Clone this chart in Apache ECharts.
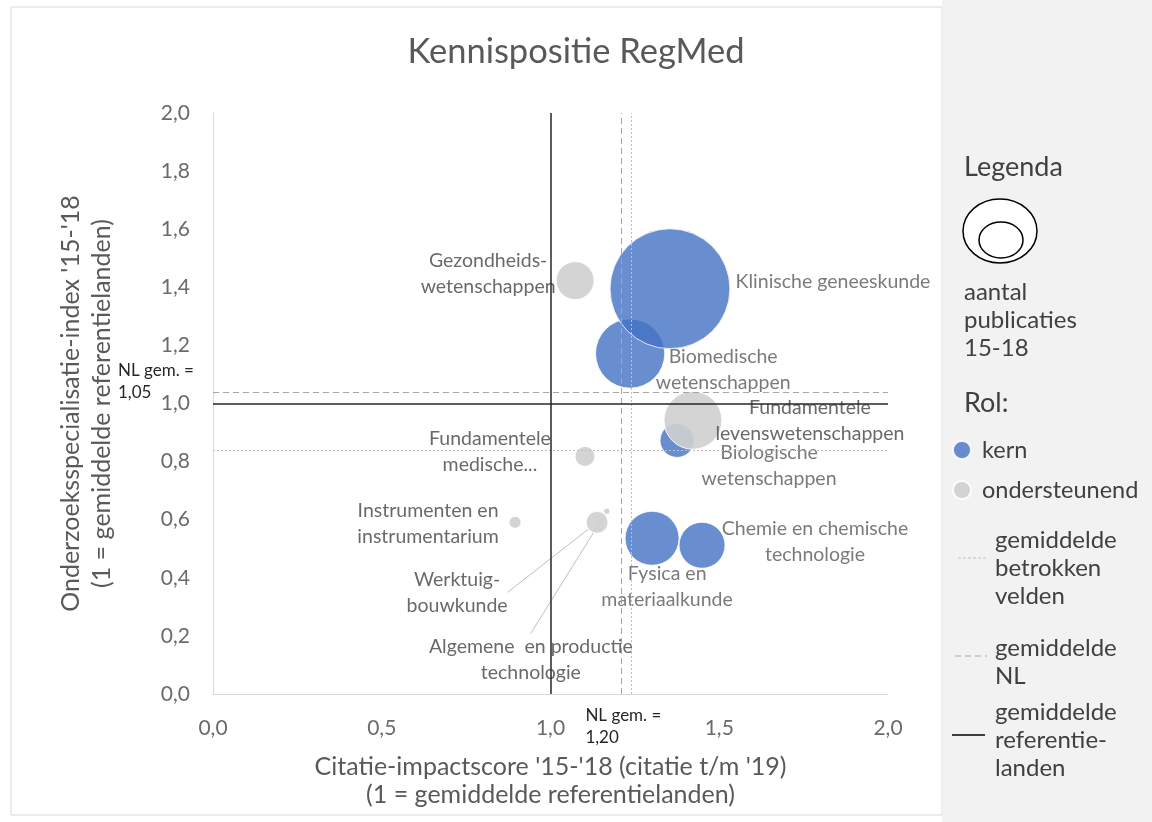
<!DOCTYPE html>
<html><head><meta charset="utf-8">
<script src="https://cdn.jsdelivr.net/npm/echarts@6/dist/echarts.min.js"></script>
<style>html,body{margin:0;padding:0;background:#fff}#c{width:1152px;height:822px}</style>
</head><body><div id="c"></div>
<script>
// ---- data ----
const kernNames = ['Biomedische\nwetenschappen', 'Klinische geneeskunde', 'Biologische\nwetenschappen', 'Fysica en\nmateriaalkunde', 'Chemie en chemische\ntechnologie'];
const kernX = [1.236, 1.354, 1.375, 1.301, 1.449];
const kernY = [1.172, 1.395, 0.873, 0.536, 0.512];
const kernPubs = [12000, 36000, 2900, 7300, 5300];

const steunNames = ['Gezondheids-\nwetenschappen', 'Fundamentele\nlevenswetenschappen', 'Fundamentele\nmedische...', 'Instrumenten en\ninstrumentarium', 'Werktuig-\nbouwkunde', 'Algemene  en productie\ntechnologie'];
const steunX = [1.073, 1.422, 1.102, 0.895, 1.138, 1.167];
const steunY = [1.423, 0.942, 0.818, 0.591, 0.591, 0.629];
const steunPubs = [3600, 8400, 1000, 360, 1200, 100];

const refLandX = 1.0, refLandY = 1.0;      // gemiddelde referentielanden
const nlX = 1.21, nlY = 1.045;             // gemiddelde NL
const veldX = 1.235, veldY = 0.838;        // gemiddelde betrokken velden
const nlLabelX = 'NL gem. =\n1,20';
const nlLabelY = 'NL gem. =\n1,05';

const xTickLabels = ['0,0', '0,5', '1,0', '1,5', '2,0'];
const yTickLabels = ['0,0', '0,2', '0,4', '0,6', '0,8', '1,0', '1,2', '1,4', '1,6', '1,8', '2,0'];

// ---- styles (label offsets in px relative to bubble centre) ----
const kernLabelOffsets = [[93, 16], [163, -7], [92, 25], [15, 48], [113, -4]];
const steunLabelOffsets = [[-87, -7], [117, 0], [-95, -5], [-87, 1], [-140, 70], [-76, 148]];
const steunLeader = [false, false, false, false, true, true];

const FONT = 'Lato';
const TXT = '#595959';
const sizeOf = v => Math.sqrt(v) * 0.632;

const chart = echarts.init(document.getElementById('c'));

function mkData(names, xs, ys, pubs, leader) {
  return names.map((n, i) => {
    const d = { name: n, value: [xs[i], ys[i], pubs[i]] };
    if (leader && leader[i]) d.labelLine = { show: true, lineStyle: { color: '#bfbfbf', width: 1 } };
    return d;
  });
}

const labelStyle = {
  show: true, position: 'inside', formatter: '{b}', color: TXT,
  fontFamily: FONT, fontSize: 19.5, lineHeight: 26, align: 'center', verticalAlign: 'middle'
};

const option = {
  animation: false,
  backgroundColor: '#fff',
  textStyle: { fontFamily: FONT },
  title: {
    text: 'Kennispositie RegMed', left: 'center', top: 29,
    textStyle: { color: TXT, fontFamily: FONT, fontSize: 34.5, fontWeight: 'normal' }
  },
  grid: { left: 213, right: 264, top: 113, bottom: 128 },
  xAxis: {
    type: 'value', min: 0, max: 2, interval: 0.5,
    axisLine: { show: true, onZero: false, lineStyle: { color: '#d9d9d9', width: 1 } },
    axisTick: { show: false }, splitLine: { show: false },
    axisLabel: { color: '#6b6b6b', fontSize: 21, fontFamily: FONT, margin: 24,
      formatter: v => xTickLabels[Math.round(v / 0.5)] },
    name: "Citatie-impactscore '15-'18 (citatie t/m '19)\n(1 = gemiddelde referentielanden)",
    nameLocation: 'middle', nameGap: 59,
    nameTextStyle: { color: TXT, fontSize: 25, lineHeight: 28, fontFamily: FONT }
  },
  yAxis: {
    type: 'value', min: 0, max: 2, interval: 0.2,
    axisLine: { show: true, onZero: false, lineStyle: { color: '#d9d9d9', width: 1 } },
    axisTick: { show: false }, splitLine: { show: false },
    axisLabel: { color: '#6b6b6b', fontSize: 21, fontFamily: FONT, margin: 23,
      formatter: v => yTickLabels[Math.round(v / 0.2)] },
    name: "Onderzoeksspecialisatie-index '15-'18\n(1 = gemiddelde referentielanden)",
    nameLocation: 'middle', nameGap: 96,
    nameTextStyle: { color: TXT, fontSize: 25, lineHeight: 31, fontFamily: FONT }
  },
  legend: {
    orient: 'vertical', left: 952, top: 438, itemWidth: 18, itemHeight: 18, itemGap: 16,
    icon: 'circle', padding: 0,
    textStyle: { color: '#404040', fontSize: 23.5, fontFamily: FONT, padding: [0, 0, 0, 6] },
    data: ['kern', 'ondersteunend']
  },
  series: [
    {
      type: 'scatter', name: 'lines', data: [], z: 1, silent: true,
      markLine: {
        symbol: 'none', silent: true, label: { show: false }, animation: false,
        data: [
          { xAxis: veldX, lineStyle: { color: '#bfbfbf', type: [2, 2], width: 1 } },
          { yAxis: veldY, lineStyle: { color: '#bfbfbf', type: [2, 2], width: 1 } },
          { xAxis: nlX, lineStyle: { color: '#a6a6a6', type: [6, 4], width: 1 } },
          { yAxis: nlY, lineStyle: { color: '#a6a6a6', type: [6, 4], width: 1 } },
          { xAxis: refLandX, lineStyle: { color: '#262626', type: 'solid', width: 1.5 } },
          { yAxis: refLandY, lineStyle: { color: '#262626', type: 'solid', width: 1.5 } }
        ]
      }
    },
    {
      type: 'scatter', name: 'kern', z: 3,
      data: mkData(kernNames, kernX, kernY, kernPubs),
      symbolSize: d => sizeOf(d[2]),
      itemStyle: { color: '#4472C4', opacity: 0.8, borderColor: '#ffffff', borderWidth: 1 },
      label: labelStyle,
      labelLayout: p => ({ dx: kernLabelOffsets[p.dataIndex][0], dy: kernLabelOffsets[p.dataIndex][1] }),
      emphasis: { disabled: true }
    },
    {
      type: 'scatter', name: 'ondersteunend', z: 4,
      data: mkData(steunNames, steunX, steunY, steunPubs, steunLeader),
      symbolSize: d => sizeOf(d[2]),
      itemStyle: { color: '#cfcfcf', opacity: 0.9, borderColor: '#ffffff', borderWidth: 1 },
      label: labelStyle,
      labelLine: { show: false },
      labelLayout: p => ({ dx: steunLabelOffsets[p.dataIndex][0], dy: steunLabelOffsets[p.dataIndex][1] }),
      emphasis: { disabled: true }
    }
  ]
};
chart.setOption(option);

// legend panel + NL average labels (positioned through the axis scales)
const pxNL = chart.convertToPixel({ xAxisIndex: 0 }, nlX);
const pyNL = chart.convertToPixel({ yAxisIndex: 0 }, nlY);
const x0 = chart.convertToPixel({ xAxisIndex: 0 }, 0);
const y0 = chart.convertToPixel({ yAxisIndex: 0 }, 0);
const nlStyle = { fill: '#262626', font: '17px ' + FONT, lineHeight: 22 };
const legTxt = { fill: '#404040', font: '24px ' + FONT, lineHeight: 28 };

chart.setOption({
  graphic: [
    { type: 'rect', z: -10, shape: { x: 11, y: 7, width: 931, height: 808 }, style: { fill: '#fff', stroke: '#d9d9d9', lineWidth: 1 } },
    { type: 'rect', z: -10, shape: { x: 942, y: 0, width: 210, height: 822 }, style: { fill: '#f2f2f2' } },
    { type: 'text', x: x0 - 95, y: pyNL - 31, style: Object.assign({ text: nlLabelY }, nlStyle) },
    { type: 'text', x: pxNL - 36, y: y0 + 11, style: Object.assign({ text: nlLabelX }, nlStyle) },
    { type: 'text', x: 964, y: 154, style: { text: 'Legenda', fill: '#404040', font: '27px ' + FONT } },
    { type: 'ellipse', shape: { cx: 1000, cy: 231, rx: 37, ry: 32 }, style: { fill: '#fff', stroke: '#000', lineWidth: 1.5 } },
    { type: 'ellipse', shape: { cx: 1001, cy: 240, rx: 22, ry: 18 }, style: { fill: '#fff', stroke: '#000', lineWidth: 1.5 } },
    { type: 'text', x: 964, y: 278, style: Object.assign({ text: 'aantal\npublicaties\n15-18' }, legTxt) },
    { type: 'text', x: 964, y: 390, style: { text: 'Rol:', fill: '#404040', font: '27px ' + FONT } },
    { type: 'line', shape: { x1: 958, y1: 558, x2: 987, y2: 558 }, style: { stroke: '#bfbfbf', lineWidth: 1, lineDash: [3, 2] } },
    { type: 'text', x: 995, y: 526, style: Object.assign({ text: 'gemiddelde\nbetrokken\nvelden' }, legTxt) },
    { type: 'line', shape: { x1: 955, y1: 656, x2: 987, y2: 656 }, style: { stroke: '#a6a6a6', lineWidth: 1, lineDash: [6, 4] } },
    { type: 'text', x: 995, y: 634, style: Object.assign({ text: 'gemiddelde\nNL' }, legTxt) },
    { type: 'line', shape: { x1: 952, y1: 735, x2: 985, y2: 735 }, style: { stroke: '#000', lineWidth: 1.5 } },
    { type: 'text', x: 995, y: 698, style: Object.assign({ text: 'gemiddelde\nreferentie-\nlanden' }, legTxt) }
  ]
});
</script>
</body></html>
